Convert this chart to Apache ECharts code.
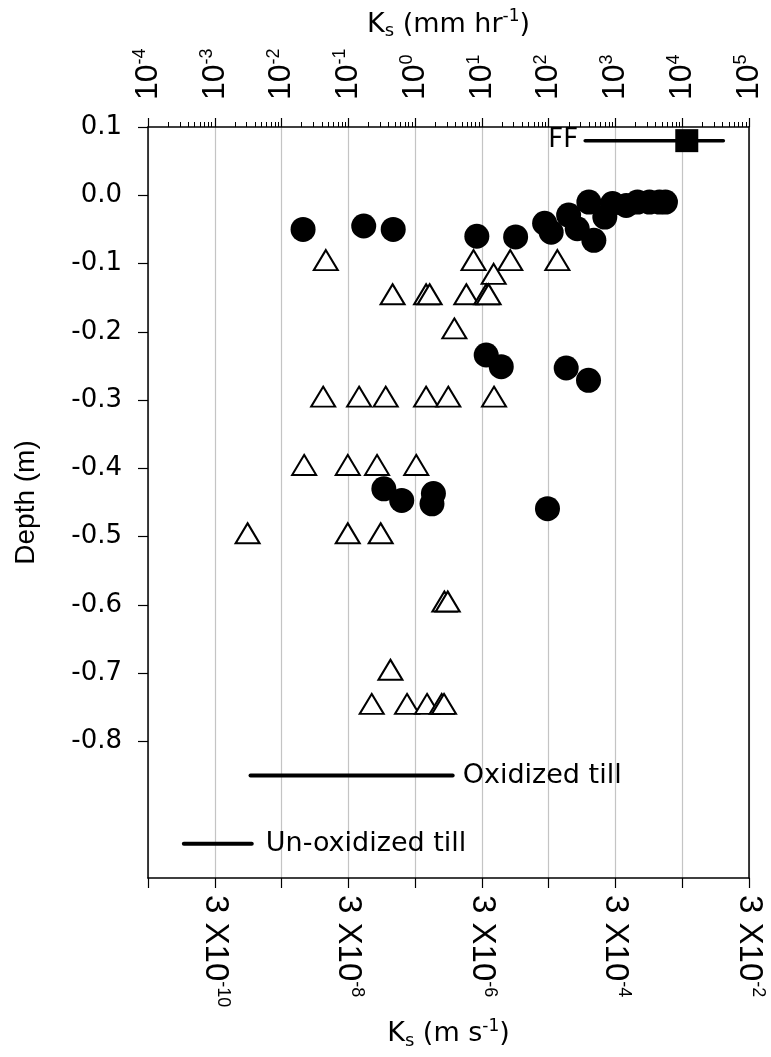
<!DOCTYPE html>
<html><head><meta charset="utf-8">
<script src="https://cdn.jsdelivr.net/npm/echarts@6/dist/echarts.min.js"></script>
<style>html,body{margin:0;padding:0;background:#fff}#c{width:771px;height:1057px}</style>
</head><body><div id="c"></div>
<script>
// Ks in mm/hr, depth in m
const circleK = [0.021, 0.17, 0.47, 8.4, 32, 87, 109, 199, 268, 475, 400, 693, 904, 1450, 2140, 3230, 4560, 5610, 11.6, 19.5, 183, 395, 0.34, 0.63, 1.88, 1.79, 96];
const circleDepth = [-0.05, -0.045, -0.05, -0.06, -0.061, -0.041, -0.054, -0.029, -0.049, -0.066, -0.01, -0.032, -0.012, -0.015, -0.01, -0.01, -0.01, -0.01, -0.234, -0.251, -0.253, -0.271, -0.43, -0.447, -0.437, -0.452, -0.459];
const triK = [0.046, 7.5, 26.6, 135, 15.0, 0.46, 1.46, 1.65, 5.85, 11.6, 12.6, 3.87, 0.042, 0.145, 0.363, 1.46, 3.14, 15.2, 0.0218, 0.098, 0.269, 1.04, 0.0031, 0.098, 0.305, 2.74, 3.08, 0.427, 0.224, 0.757, 1.51, 2.50, 2.71];
const triDepth = [-0.1, -0.1, -0.1, -0.1, -0.12, -0.15, -0.15, -0.15, -0.15, -0.15, -0.15, -0.2, -0.3, -0.3, -0.3, -0.3, -0.3, -0.3, -0.4, -0.4, -0.4, -0.4, -0.5, -0.5, -0.5, -0.6, -0.6, -0.7, -0.75, -0.75, -0.75, -0.75, -0.75];
const ffRangeK = [352, 41300];
const ffK = 11700;
const ffDepth = 0.08;
const oxidizedK = [0.00343, 3.65];
const oxidizedDepth = -0.85;
const unoxidizedK = [0.000344, 0.00358];
const unoxidizedDepth = -0.95;
const yTicks = [0.1, 0, -0.1, -0.2, -0.3, -0.4, -0.5, -0.6, -0.7, -0.8];
// bottom (m/s) labels shown at odd decades of the mm/hr scale: exponent of mm/hr -> exponent of m/s
const bottomLabels = {'-3': '-10', '-1': '-8', '1': '-6', '3': '-4', '5': '-2'};

const LIB = 'Liberation Sans, Arial, sans-serif';
const DJV = 'DejaVu Sans, Verdana, sans-serif';
const chart = echarts.init(document.getElementById('c'), null, {renderer: 'canvas'});
const zip = (a, b) => a.map((v, i) => [v, b[i]]);
const nameRich = {
  k: {fontSize: 27, fontFamily: DJV, color: '#000', lineHeight: 32},
  sub: {fontSize: 18, fontFamily: DJV, color: '#000', verticalAlign: 'bottom', lineHeight: 18},
  sup: {fontSize: 17, fontFamily: DJV, color: '#000', verticalAlign: 'top', lineHeight: 17}
};

const option = {
  backgroundColor: '#fff',
  animation: false,
  grid: {left: 148, right: 22, top: 127, bottom: 179, containLabel: false},
  xAxis: [
    {
      type: 'log', logBase: 10, min: 1e-4, max: 1e5, position: 'top', splitNumber: 9,
      name: '{k|K}{sub|s}{k| (mm hr}{sup|-1}{k|)}', nameLocation: 'middle', nameGap: 86,
      nameTextStyle: {rich: nameRich},
      axisLine: {show: true, onZero: false, lineStyle: {color: '#000', width: 1.5}},
      axisTick: {show: true, inside: false, length: 9, lineStyle: {color: '#000', width: 1.2}},
      minorTick: {show: true, splitNumber: 9, length: 5, lineStyle: {color: '#000', width: 1}},
      splitLine: {show: true, lineStyle: {color: '#c4c4c4', width: 1.2}},
      axisLabel: {
        show: true, rotate: -90, margin: 27, interval: 0, showMinLabel: true, showMaxLabel: true,
        formatter: v => '{b|10}{s|' + Math.round(Math.log10(v)) + '}',
        rich: {
          b: {fontSize: 32, fontFamily: LIB, color: '#000', lineHeight: 34},
          s: {fontSize: 18, fontFamily: LIB, color: '#000', verticalAlign: 'top', lineHeight: 18}
        }
      }
    },
    {
      type: 'log', logBase: 10, min: 1e-4, max: 1e5, position: 'bottom', splitNumber: 9,
      name: '{k|K}{sub|s}{k| (m s}{sup|-1}{k|)}', nameLocation: 'middle', nameGap: 140,
      nameTextStyle: {rich: nameRich},
      axisLine: {show: true, onZero: false, lineStyle: {color: '#000', width: 1.5}},
      axisTick: {show: true, inside: false, length: 10, lineStyle: {color: '#000', width: 1.2}},
      minorTick: {show: false},
      splitLine: {show: false},
      axisLabel: {
        show: true, rotate: -90, margin: 17, interval: 0, showMinLabel: true, showMaxLabel: true,
        formatter: v => {
          const n = String(Math.round(Math.log10(v)));
          return bottomLabels[n] ? '{b|3 X10}{s|' + bottomLabels[n] + '}' : '';
        },
        rich: {
          b: {fontSize: 33, fontFamily: LIB, color: '#000', lineHeight: 35},
          s: {fontSize: 18, fontFamily: LIB, color: '#000', verticalAlign: 'top', lineHeight: 18}
        }
      }
    }
  ],
  yAxis: [
    {
      type: 'value', min: -1, max: 0.1, interval: 0.1, position: 'left',
      name: 'Depth (m)', nameLocation: 'middle', nameGap: 108,
      nameTextStyle: {fontSize: 28, fontFamily: LIB, color: '#000'},
      axisLine: {show: true, onZero: false, lineStyle: {color: '#000', width: 1.5}},
      axisTick: {show: true, inside: false, length: 10, customValues: yTicks, lineStyle: {color: '#000', width: 1.2}},
      splitLine: {show: false},
      axisLabel: {
        show: true, margin: 26, customValues: yTicks, fontSize: 26, fontFamily: DJV, color: '#000',
        formatter: v => (Math.abs(v) < 1e-9 ? 0 : v).toFixed(1)
      }
    },
    {
      type: 'value', min: -1, max: 0.1, interval: 0.1, position: 'right',
      axisLine: {show: true, onZero: false, lineStyle: {color: '#000', width: 1.5}},
      axisTick: {show: false}, axisLabel: {show: false}, splitLine: {show: false}
    }
  ],
  series: [
    {
      name: 'Un-oxidized till', type: 'line', xAxisIndex: 0, yAxisIndex: 0, showSymbol: false, symbol: 'none',
      data: unoxidizedK.map(k => [k, unoxidizedDepth]),
      lineStyle: {color: '#000', width: 4, cap: 'round'}, z: 3
    },
    {
      name: 'Oxidized till', type: 'line', xAxisIndex: 0, yAxisIndex: 0, showSymbol: false, symbol: 'none',
      data: oxidizedK.map(k => [k, oxidizedDepth]),
      lineStyle: {color: '#000', width: 4, cap: 'round'}, z: 3
    },
    {
      name: 'FF range', type: 'line', xAxisIndex: 0, yAxisIndex: 0, showSymbol: false, symbol: 'none',
      data: ffRangeK.map(k => [k, ffDepth]),
      lineStyle: {color: '#000', width: 3.5, cap: 'round'}, z: 3
    },
    {
      name: 'labels', type: 'scatter', xAxisIndex: 0, yAxisIndex: 0, symbolSize: 0.1,
      itemStyle: {color: 'rgba(0,0,0,0)', opacity: 1}, z: 4,
      label: {show: true, fontSize: 27, fontFamily: DJV, color: '#000', opacity: 1},
      data: [
        {value: [ffRangeK[0], ffDepth], label: {position: 'left', distance: 7, formatter: 'FF', fontSize: 26}},
        {value: [oxidizedK[1], oxidizedDepth], label: {position: 'right', distance: 10, formatter: 'Oxidized till'}},
        {value: [unoxidizedK[1], unoxidizedDepth], label: {position: 'right', distance: 14, formatter: 'Un-oxidized till'}}
      ]
    },
    {
      name: 'FF', type: 'scatter', xAxisIndex: 0, yAxisIndex: 0, symbol: 'rect', symbolSize: 23,
      itemStyle: {color: '#000', opacity: 1}, data: [[ffK, ffDepth]], z: 5
    },
    {
      name: 'triangles', type: 'scatter', xAxisIndex: 0, yAxisIndex: 0, symbol: 'triangle', symbolSize: [24, 20],
      symbolOffset: [0, -3.4],
      itemStyle: {color: '#fff', borderColor: '#000', borderWidth: 2, opacity: 1}, data: zip(triK, triDepth), z: 5
    },
    {
      name: 'circles', type: 'scatter', xAxisIndex: 0, yAxisIndex: 0, symbol: 'circle', symbolSize: 25,
      itemStyle: {color: '#000', opacity: 1}, data: zip(circleK, circleDepth), z: 6
    }
  ]
};
chart.setOption(option);
</script>
</body></html>
